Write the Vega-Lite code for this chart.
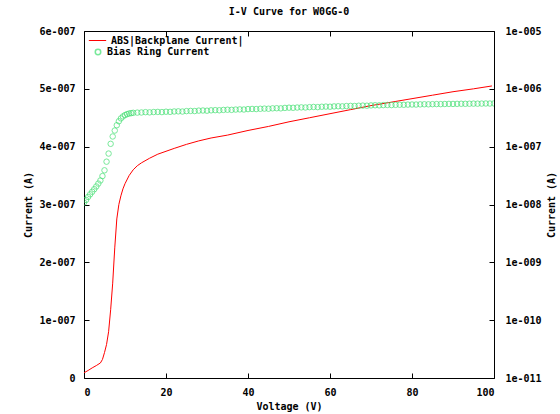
{
  "$schema": "https://vega.github.io/schema/vega-lite/v6.json",
  "width": 410,
  "height": 347,
  "autosize": {"type": "none"},
  "padding": {"left": 84, "top": 31, "right": 66, "bottom": 36},
  "background": "white",
  "title": {"text": "I-V Curve for W0GG-0", "font": "DejaVu Sans Mono", "fontSize": 10, "fontWeight": "bold", "color": "black", "anchor": "middle", "offset": 9},
  "config": {
    "view": {"stroke": "black", "strokeWidth": 1},
    "axis": {"labelFont": "DejaVu Sans Mono", "labelFontSize": 10, "labelFontWeight": "bold", "labelColor": "black", "titleFont": "DejaVu Sans Mono", "titleFontSize": 10, "titleFontWeight": "bold", "titleColor": "black", "grid": false, "domain": false, "tickColor": "black", "tickSize": -5},
    "legend": {"labelFont": "DejaVu Sans Mono", "labelFontSize": 10, "labelFontWeight": "bold", "labelColor": "black"}
  },
  "datasets": {
    "backplane": [
      {"v": 0, "i": 9e-9}, {"v": 1, "i": 1.3e-8}, {"v": 2, "i": 1.75e-8}, {"v": 3, "i": 2.15e-8}, {"v": 4, "i": 2.6e-8}, {"v": 4.5, "i": 3.2e-8}, {"v": 5, "i": 4.4e-8}, {"v": 5.5, "i": 5.8e-8}, {"v": 6, "i": 8e-8}, {"v": 6.5, "i": 1.18e-7}, {"v": 7, "i": 1.64e-7}, {"v": 7.5, "i": 2.25e-7}, {"v": 8, "i": 2.75e-7}, {"v": 8.5, "i": 3e-7}, {"v": 9, "i": 3.15e-7}, {"v": 9.5, "i": 3.27e-7}, {"v": 10, "i": 3.36e-7}, {"v": 11, "i": 3.5e-7}, {"v": 12, "i": 3.6e-7}, {"v": 13, "i": 3.67e-7}, {"v": 14, "i": 3.72e-7}, {"v": 16, "i": 3.8e-7}, {"v": 18, "i": 3.87e-7}, {"v": 20, "i": 3.92e-7}, {"v": 22, "i": 3.97e-7}, {"v": 25, "i": 4.04e-7}, {"v": 28, "i": 4.1e-7}, {"v": 31, "i": 4.15e-7}, {"v": 35, "i": 4.2e-7}, {"v": 40, "i": 4.28e-7}, {"v": 45, "i": 4.35e-7}, {"v": 50, "i": 4.43e-7}, {"v": 55, "i": 4.5e-7}, {"v": 60, "i": 4.57e-7}, {"v": 65, "i": 4.64e-7}, {"v": 70, "i": 4.71e-7}, {"v": 75, "i": 4.77e-7}, {"v": 80, "i": 4.83e-7}, {"v": 85, "i": 4.89e-7}, {"v": 90, "i": 4.95e-7}, {"v": 95, "i": 5.0e-7}, {"v": 99.5, "i": 5.05e-7}
    ],
    "bias": [
      {"v": 0, "i": 1.08e-8}, {"v": 0.5, "i": 1.2e-8}, {"v": 1, "i": 1.35e-8}, {"v": 1.5, "i": 1.5e-8}, {"v": 2, "i": 1.66e-8}, {"v": 2.5, "i": 1.84e-8}, {"v": 3, "i": 2.05e-8}, {"v": 3.5, "i": 2.3e-8}, {"v": 4, "i": 2.6e-8}, {"v": 4.5, "i": 3.1e-8}, {"v": 5, "i": 3.9e-8}, {"v": 5.5, "i": 5.5e-8}, {"v": 6, "i": 7.6e-8}, {"v": 6.5, "i": 1.12e-7}, {"v": 7, "i": 1.5e-7}, {"v": 7.5, "i": 1.9e-7}, {"v": 8, "i": 2.35e-7}, {"v": 8.5, "i": 2.75e-7}, {"v": 9, "i": 3.08e-7}, {"v": 9.5, "i": 3.33e-7}, {"v": 10, "i": 3.52e-7}, {"v": 10.5, "i": 3.65e-7}, {"v": 11, "i": 3.74e-7}, {"v": 11.5, "i": 3.8e-7}, {"v": 12, "i": 3.85e-7},
      {"v": 13, "i": 3.88e-7}, {"v": 14, "i": 3.9e-7}, {"v": 15, "i": 3.95e-7}, {"v": 16, "i": 3.92e-7}, {"v": 17, "i": 3.97e-7}, {"v": 18, "i": 3.99e-7}, {"v": 19, "i": 3.96e-7}, {"v": 20, "i": 4.02e-7}, {"v": 21, "i": 4.0e-7}, {"v": 22, "i": 4.06e-7}, {"v": 23, "i": 4.08e-7}, {"v": 24, "i": 4.05e-7}, {"v": 25, "i": 4.12e-7}, {"v": 26, "i": 4.15e-7}, {"v": 27, "i": 4.13e-7}, {"v": 28, "i": 4.2e-7}, {"v": 29, "i": 4.22e-7}, {"v": 30, "i": 4.19e-7}, {"v": 31, "i": 4.25e-7}, {"v": 32, "i": 4.28e-7}, {"v": 33, "i": 4.26e-7}, {"v": 34, "i": 4.32e-7}, {"v": 35, "i": 4.35e-7}, {"v": 36, "i": 4.33e-7}, {"v": 37, "i": 4.38e-7}, {"v": 38, "i": 4.41e-7}, {"v": 39, "i": 4.39e-7}, {"v": 40, "i": 4.46e-7}, {"v": 41, "i": 4.49e-7}, {"v": 42, "i": 4.47e-7}, {"v": 43, "i": 4.52e-7}, {"v": 44, "i": 4.55e-7}, {"v": 45, "i": 4.53e-7}, {"v": 46, "i": 4.6e-7}, {"v": 47, "i": 4.62e-7}, {"v": 48, "i": 4.6e-7}, {"v": 49, "i": 4.68e-7}, {"v": 50, "i": 4.72e-7}, {"v": 51, "i": 4.7e-7}, {"v": 52, "i": 4.75e-7}, {"v": 53, "i": 4.78e-7}, {"v": 54, "i": 4.76e-7}, {"v": 55, "i": 4.82e-7}, {"v": 56, "i": 4.86e-7}, {"v": 57, "i": 4.83e-7}, {"v": 58, "i": 4.9e-7}, {"v": 59, "i": 4.93e-7}, {"v": 60, "i": 4.91e-7}, {"v": 61, "i": 4.97e-7}, {"v": 62, "i": 5.0e-7}, {"v": 63, "i": 4.98e-7}, {"v": 64, "i": 5.04e-7}, {"v": 65, "i": 5.07e-7}, {"v": 66, "i": 5.05e-7}, {"v": 67, "i": 5.1e-7}, {"v": 68, "i": 5.13e-7}, {"v": 69, "i": 5.11e-7}, {"v": 70, "i": 5.17e-7}, {"v": 71, "i": 5.2e-7}, {"v": 72, "i": 5.18e-7}, {"v": 73, "i": 5.23e-7}, {"v": 74, "i": 5.26e-7}, {"v": 75, "i": 5.24e-7}, {"v": 76, "i": 5.29e-7}, {"v": 77, "i": 5.31e-7}, {"v": 78, "i": 5.3e-7}, {"v": 79, "i": 5.34e-7}, {"v": 80, "i": 5.36e-7}, {"v": 81, "i": 5.35e-7}, {"v": 82, "i": 5.39e-7}, {"v": 83, "i": 5.41e-7}, {"v": 84, "i": 5.4e-7}, {"v": 85, "i": 5.43e-7}, {"v": 86, "i": 5.45e-7}, {"v": 87, "i": 5.44e-7}, {"v": 88, "i": 5.47e-7}, {"v": 89, "i": 5.49e-7}, {"v": 90, "i": 5.48e-7}, {"v": 91, "i": 5.5e-7}, {"v": 92, "i": 5.52e-7}, {"v": 93, "i": 5.51e-7}, {"v": 94, "i": 5.53e-7}, {"v": 95, "i": 5.55e-7}, {"v": 96, "i": 5.54e-7}, {"v": 97, "i": 5.56e-7}, {"v": 98, "i": 5.58e-7}, {"v": 99, "i": 5.57e-7}, {"v": 100, "i": 5.59e-7}
    ]
  },
  "layer": [
    {
      "data": {"name": "backplane"},
      "mark": {"type": "line", "strokeWidth": 1, "clip": true},
      "encoding": {
        "x": {"field": "v", "type": "quantitative", "scale": {"domain": [0, 100], "nice": false}, "axis": {"orient": "bottom", "title": "Voltage (V)", "values": [0, 20, 40, 60, 80, 100], "labelPadding": 14, "titlePadding": 4}},
        "y": {"field": "i", "type": "quantitative", "scale": {"domain": [0, 6e-7], "nice": false}, "axis": {"orient": "left", "title": "Current (A)", "values": [0, 1e-7, 2e-7, 3e-7, 4e-7, 5e-7, 6e-7], "labelExpr": "datum.value == 0 ? '0' : round(datum.value * 1e7) + 'e-007'", "labelPadding": 14, "titlePadding": 5}},
        "stroke": {"datum": "ABS|Backplane Current|", "scale": {"range": ["#ff0000"]}, "legend": {"orient": "none", "legendX": 4, "legendY": 0, "symbolType": "stroke", "title": null, "symbolStrokeWidth": 1, "symbolSize": 300, "padding": 0}}
      }
    },
    {
      "data": {"name": "bias"},
      "mark": {"type": "point", "filled": false, "size": 30, "strokeWidth": 1, "color": "#40e070", "clip": true},
      "encoding": {
        "x": {"field": "v", "type": "quantitative", "scale": {"domain": [0, 100], "nice": false}, "axis": {"orient": "top", "labels": false, "title": null, "values": [0, 20, 40, 60, 80, 100]}},
        "y": {"field": "i", "type": "quantitative", "scale": {"type": "log", "domain": [1e-11, 1e-5], "nice": false}, "axis": {"orient": "right", "title": "Current (A)", "titleAngle": 270, "values": [1e-11, 1e-10, 1e-9, 1e-8, 1e-7, 1e-6, 1e-5], "labelExpr": "'1e-0' + (round(-log(datum.value) / LN10) < 10 ? '0' : '') + round(-log(datum.value) / LN10)", "labelPadding": 16, "titlePadding": 15}},
        "shape": {"datum": "Bias Ring Current", "scale": {"range": ["circle"]}, "legend": {"orient": "none", "legendX": 9, "legendY": 16, "title": null, "symbolStrokeColor": "#40e070", "symbolFillColor": "transparent", "symbolSize": 30, "padding": 0}}
      }
    }
  ],
  "resolve": {"scale": {"y": "independent"}, "axis": {"x": "independent"}}
}
